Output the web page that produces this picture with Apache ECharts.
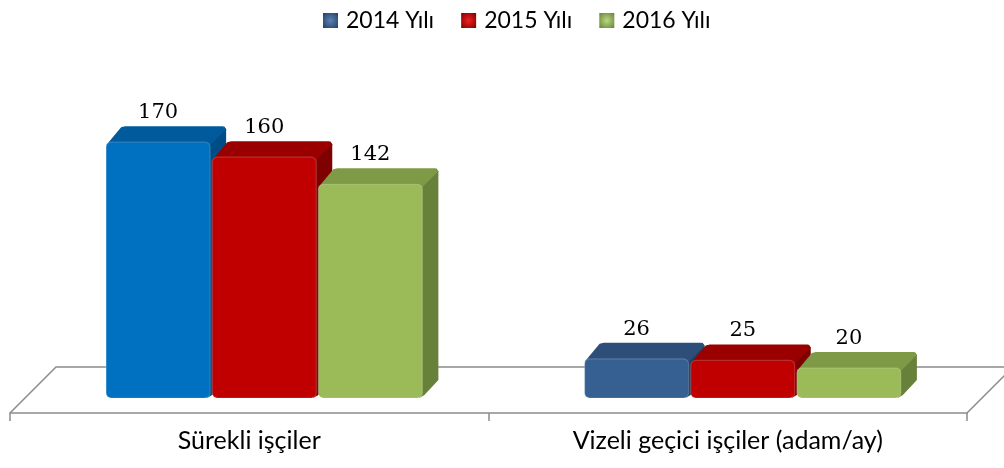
<!DOCTYPE html>
<html>
<head>
<meta charset="utf-8">
<script src="https://cdn.jsdelivr.net/npm/echarts@6/dist/echarts.min.js"></script>
<style>
html,body{margin:0;padding:0;background:#fff;}
#chart{width:1004px;height:468px;}
</style>
</head>
<body>
<div id="chart"></div>
<script>
const categories = ['Sürekli işçiler', 'Vizeli geçici işçiler (adam/ay)'];
const seriesNames = ['2014 Yılı', '2015 Yılı', '2016 Yılı'];
const v2014 = [170, 26];
const v2015 = [160, 25];
const v2016 = [142, 20];
const values = [v2014, v2015, v2016];

const palette = [
  { front: '#376092', top: '#2C4E78', side: '#243F62', light: '#5A82B5' },
  { front: '#C00000', top: '#9A0000', side: '#7E0000', light: '#F02020' },
  { front: '#9BBB59', top: '#7E9A46', side: '#67803A', light: '#BBD880' }
];
const special = { front: '#0070C0', top: '#005A9C', side: '#004C85' }; // 2014, first category

const DEPTH = 16;   // 3D depth of boxes
const LIFT = 15;    // bars stand in the middle of the floor

function colorFor(s, ci) {
  if (s === 0 && ci === 0) return special;
  return palette[s];
}

function makeRender(s) {
  return function (params, api) {
    const ci = api.value(0), v = api.value(1);
    const base = api.coord([ci, 0]);
    const top = api.coord([ci, v]);
    const band = api.size([1, 0])[0];
    const bw = band * 0.2174, gap = band * 0.0044;
    const gx = base[0] + LIFT - (3 * bw + 2 * gap) / 2;
    const x0 = gx + s * (bw + gap), x1 = x0 + bw;
    const yb = base[1] - LIFT, yt = top[1] - LIFT;
    const c = colorFor(s, ci);
    return {
      type: 'group',
      children: [
        { type: 'polygon', shape: { points: [[x1 - 3, yt], [x1 + DEPTH - 2, yt - DEPTH], [x1 + DEPTH, yt - DEPTH + 3], [x1 + DEPTH, yb - DEPTH - 2], [x1 + 2, yb - 3], [x1 - 3, yb]] }, style: { fill: c.side } },
        { type: 'polygon', shape: { points: [[x0, yt + 3], [x0 + DEPTH - 1, yt - DEPTH + 1], [x0 + DEPTH + 3, yt - DEPTH], [x1 + DEPTH - 3, yt - DEPTH], [x1 + DEPTH, yt - DEPTH + 3], [x1, yt + 3]] }, style: { fill: c.top } },
        { type: 'rect', shape: { x: x0, y: yt, width: bw, height: yb - yt, r: 5 },
          style: { fill: c.front, stroke: 'rgba(255,255,255,0.18)', lineWidth: 1.2 } },
        { type: 'text', style: { text: String(v), x: x0 + bw / 2, y: yt - DEPTH - 3, align: 'center', verticalAlign: 'bottom', font: '21px "DejaVu Serif"', fill: '#000' } }
      ]
    };
  };
}

function renderFloor(params, api) {
  const cs = params.coordSys;
  const fy = cs.y + cs.height;
  const by = fy - 46;
  return {
    type: 'polyline',
    shape: { points: [[cs.x, fy], [cs.x + 46, by], [cs.x + cs.width + 46, by], [cs.x + cs.width, fy]] },
    style: { stroke: '#8C8C8C', lineWidth: 1.5, fill: null }
  };
}

const series = [{
  type: 'custom', name: '_floor', silent: true, z: 1,
  renderItem: renderFloor, data: [[0, 0]], encode: { x: 0, y: 1 }, clip: false
}];
values.forEach((arr, s) => {
  series.push({
    type: 'custom', name: seriesNames[s], z: 2 + s, clip: false,
    itemStyle: { color: palette[s].front },
    renderItem: makeRender(s),
    data: arr.map((v, i) => [i, v]),
    encode: { x: 0, y: 1 }
  });
});

const legendData = seriesNames.map((n, s) => ({
  name: n,
  itemStyle: {
    color: {
      type: 'radial', x: 0.5, y: 0.5, r: 0.7,
      colorStops: [{ offset: 0, color: palette[s].light }, { offset: 1, color: palette[s].side }]
    }
  }
}));

const chart = echarts.init(document.getElementById('chart'), null, { renderer: 'canvas' });
chart.setOption({
  animation: false,
  backgroundColor: '#fff',
  legend: {
    data: legendData,
    top: 4, left: 318,
    icon: 'rect', itemWidth: 15, itemHeight: 15, itemGap: 27,
    textStyle: { fontSize: 23, fontFamily: 'Lato', color: '#000', padding: [0, 0, 0, 3] }
  },
  grid: { left: 10, right: 37, top: 112, bottom: 55, containLabel: false },
  xAxis: {
    type: 'category', data: categories, boundaryGap: true,
    axisLine: { lineStyle: { color: '#8C8C8C', width: 1.5 } },
    axisTick: { show: true, length: 8, lineStyle: { color: '#8C8C8C', width: 1.5 } },
    axisLabel: { fontSize: 25, fontFamily: 'Lato', color: '#000', margin: 15 }
  },
  yAxis: { type: 'value', min: 0, max: 200, show: false, splitLine: { show: false } },
  series: series
});
</script>
</body>
</html>
